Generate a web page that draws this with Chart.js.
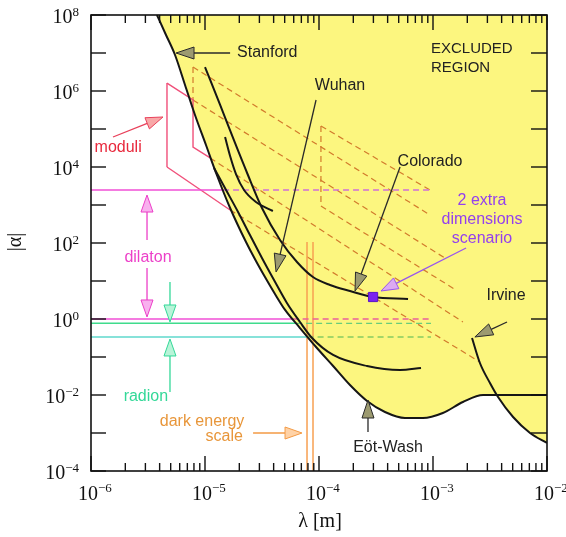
<!DOCTYPE html>
<html>
<head>
<meta charset="utf-8">
<script src="https://cdn.jsdelivr.net/npm/chart.js@4.4.1/dist/chart.umd.min.js"></script>
<style>
  html, body { margin: 0; padding: 0; background: #fff; }
  #wrap { width: 566px; height: 537px; }
</style>
</head>
<body>
<div id="wrap"><canvas id="chart" width="566" height="537"></canvas></div>
<script>
// axes range and tick labels
const xMin = 1e-6, xMax = 1e-2;
const yMin = 1e-4, yMax = 1e8;
const xDecades = [1e-6, 1e-5, 1e-4, 1e-3, 1e-2];
const xDecadeExp = ["−6", "−5", "−4", "−3", "−2"];
const minorSteps = [2, 3, 4, 5, 6, 7, 8, 9];
const yDecades = [1e8, 1e7, 1e6, 1e5, 1e4, 1e3, 1e2, 1e1, 1e0, 1e-1, 1e-2, 1e-3, 1e-4];
const yLabelled = [1e8, 1e6, 1e4, 1e2, 1e0, 1e-2, 1e-4];
const yLabelExp = ["8", "6", "4", "2", "0", "−2", "−4"];

// Eot-Wash / Stanford boundary of the excluded region
const eotWashX = [3.79e-6, 4.55e-6, 5.46e-6, 6.68e-6, 8.17e-6, 1.02e-5, 1.27e-5, 1.66e-5, 2.29e-5, 2.80e-5,
  3.36e-5, 4.11e-5, 5.04e-5, 6.81e-5, 9.42e-5, 1.33e-4, 1.87e-4, 2.64e-4, 3.79e-4, 5.68e-4,
  8.17e-4, 1.22e-3, 1.83e-3, 2.75e-3, 3.87e-3, 5.79e-3, 1e-2];
const eotWashY = [1e8, 2.98e7, 8.86e6, 1.44e6, 2.34e5, 3.79e4, 6.16e3, 834, 106, 33.6,
  12.7, 4.55, 1.73, 0.579, 0.183, 0.0579, 0.0183, 6.95e-3, 3.57e-3, 2.48e-3,
  2.48e-3, 3.36e-3, 6.54e-3, 0.01, 0.01, 0.01, 0.01];

const irvineX = [2.20e-3, 2.58e-3, 3.16e-3, 3.72e-3, 5.04e-3, 7.10e-3, 1e-2];
const irvineY = [0.316, 0.0695, 0.0207, 8.86e-3, 2.64e-3, 1e-3, 5.46e-4];

const coloradoX = [1e-5, 1.36e-5, 1.79e-5, 2.38e-5, 3.16e-5, 4.55e-5, 6.41e-5, 8.85e-5, 1.25e-4, 1.87e-4, 2.98e-4, 6.04e-4];
const coloradoY = [4.28e6, 4.28e5, 5.14e4, 6.16e3, 834, 120, 31.6, 12.7, 7.85, 5.46, 3.79, 3.36];

const wuhanX = [1.20e-5, 1.53e-5, 1.95e-5, 2.48e-5, 3.16e-5, 4.03e-5, 5.23e-5, 6.81e-5, 8.69e-5, 1.33e-4, 2.64e-4, 5.14e-4, 7.85e-4];
const wuhanY = [9.42e3, 2.48e3, 655, 162, 40.3, 10.6, 2.64, 0.834, 0.316, 0.113, 0.0579, 0.0455, 0.0514];

const stanford2X = [1.50e-5, 1.66e-5, 1.87e-5, 2.20e-5, 2.80e-5, 3.94e-5];
const stanford2Y = [6.16e4, 1.95e4, 6.54e3, 2.48e3, 1.20e3, 695];

// theory: moduli outline (solid) and its continuation / extra-dimension lines (dashed)
const moduliSolid = [
  [[4.64e-6, 1.62e6], [4.64e-6, 1e4]],
  [[4.64e-6, 1.62e6], [7.85e-6, 5.80e5], [7.85e-6, 3.36e4], [1.11e-5, 1.73e4]],
  [[4.64e-6, 1e4], [1.66e-5, 738]],
];
const theoryDashed = [
  [[7.85e-6, 4.28e6], [7.85e-6, 5.80e5]],
  [[7.85e-6, 4.28e6], [9.42e-4, 546]],
  [[7.85e-6, 5.80e5], [1.27e-3, 40.3]],
  [[1.04e-4, 1.20e5], [1.04e-4, 942]],
  [[1.04e-4, 1.20e5], [9.42e-4, 2480]],
  [[1.04e-4, 942], [1.59e-3, 5.80]],
  [[1.11e-5, 1.73e4], [1.83e-3, 0.834]],
  [[1.66e-5, 738], [2.58e-3, 0.0738]],
];

// dilaton / radion levels: solid outside, dashed inside the excluded region
const levelAlpha = [2480, 1, 0.77, 0.336];
const levelSolidEnd = [1.44e-5, 5.87e-5, 6.3e-5, 7.94e-5];
const levelDashEnd = [9.42e-4, 9.6e-4, 9.6e-4, 9.6e-4];
const levelColor = ["#f04fd6", "#f04fd6", "#3fdc8c", "#5fd8cc"];
const levelDashColor = ["#d070d8", "#e8609a", "#6acc7a", "#86cc62"];

// dark energy scale
const darkEnergyLambda = [7.85e-5, 8.86e-5];
const darkEnergyTop = 106;

// 2 extra dimensions point
const extraDimPoint = [{ x: 2.98e-4, y: 3.79 }];

// labels
const labels = [
  { t: "Stanford", x: 1.91e-5, y: 1e7, c: "#222", a: "left" },
  { t: "EXCLUDED", x: 9.6e-4, y: 1.31e7, c: "#222", a: "left", s: 15 },
  { t: "REGION", x: 9.6e-4, y: 4.03e6, c: "#222", a: "left", s: 15 },
  { t: "Wuhan", x: 1.53e-4, y: 1.36e6, c: "#222", a: "center" },
  { t: "Colorado", x: 9.42e-4, y: 1.36e4, c: "#222", a: "center" },
  { t: "2 extra", x: 2.69e-3, y: 1.27e3, c: "#9440ee", a: "center" },
  { t: "dimensions", x: 2.69e-3, y: 403, c: "#9440ee", a: "center" },
  { t: "scenario", x: 2.69e-3, y: 127, c: "#9440ee", a: "center" },
  { t: "Irvine", x: 4.37e-3, y: 4.03, c: "#222", a: "center" },
  { t: "Eöt-Wash", x: 4.03e-4, y: 4.03e-4, c: "#222", a: "center" },
  { t: "moduli", x: 1.73e-6, y: 3.16e4, c: "#e8283c", a: "center" },
  { t: "dilaton", x: 3.16e-6, y: 40.3, c: "#ec3fc8", a: "center" },
  { t: "radion", x: 3.03e-6, y: 8.86e-3, c: "#33d898", a: "center" },
  { t: "dark energy", x: 9.42e-6, y: 1.95e-3, c: "#e8963a", a: "center" },
  { t: "scale", x: 2.15e-5, y: 7.85e-4, c: "#e8963a", a: "right" },
];

// arrows: [fromX, fromY, toX, toY]
const pointerArrows = [
  [1.66e-5, 1e7, 5.57e-6, 1e7],
  [9.42e-5, 5.80e5, 4.20e-5, 17.3],
  [5.14e-4, 1e4, 2.07e-4, 5.46],
  [4.46e-3, 0.834, 2.33e-3, 0.336],
  [2.69e-4, 1.06e-3, 2.69e-4, 7.38e-3],
];
const colorArrows = [
  { p: [1.56e-6, 6.16e4, 4.28e-6, 2.07e5], line: "#e8405a", fill: "#f8a8a8" },
  { p: [3.10e-6, 120, 3.10e-6, 1.83e3], line: "#ec3fc8", fill: "#f8b0ee" },
  { p: [3.10e-6, 22.0, 3.10e-6, 1.13], line: "#ec3fc8", fill: "#f8b0ee" },
  { p: [4.93e-6, 9.42, 4.93e-6, 0.834], line: "#33d898", fill: "#b8f4d8" },
  { p: [4.93e-6, 0.012, 4.93e-6, 0.298], line: "#33d898", fill: "#b8f4d8" },
  { p: [2.64e-5, 1e-3, 7.10e-5, 1e-3], line: "#f39a45", fill: "#ffd2a6" },
  { p: [1.95e-3, 73.8, 3.50e-4, 5.46], line: "#9955ee", fill: "#dcaaf2" },
];

const YELLOW = "#fcf67f";
const NONE = "rgba(0,0,0,0)";

function pts(xs, ys) { return xs.map((v, i) => ({ x: v, y: ys[i] })); }
function seg(pairs) { return pairs.map((p) => ({ x: p[0], y: p[1] })); }

const datasets = [];
// yellow excluded region
datasets.push({ data: pts(eotWashX, eotWashY), fill: "end", backgroundColor: YELLOW, borderColor: NONE, borderWidth: 0, cubicInterpolationMode: "monotone", order: 20 });
datasets.push({ data: pts(irvineX, irvineY), fill: { value: 0.01 }, backgroundColor: YELLOW, borderColor: NONE, borderWidth: 0, cubicInterpolationMode: "monotone", order: 20 });

// theory lines
moduliSolid.forEach((s) => datasets.push({ data: seg(s), borderColor: "#f0507a", borderWidth: 1.4, order: 8 }));
theoryDashed.forEach((s) => datasets.push({ data: seg(s), borderColor: "#d27a2c", borderWidth: 1.2, borderDash: [6, 4], order: 8 }));
levelAlpha.forEach((a, i) => {
  datasets.push({ data: [{ x: xMin, y: a }, { x: levelSolidEnd[i], y: a }], borderColor: levelColor[i], borderWidth: 1.5, order: 7 });
  datasets.push({ data: [{ x: levelSolidEnd[i], y: a }, { x: levelDashEnd[i], y: a }], borderColor: levelDashColor[i], borderWidth: 1.3, borderDash: [6, 4], order: 7 });
});
darkEnergyLambda.forEach((l) => datasets.push({ data: [{ x: l, y: darkEnergyTop }, { x: l, y: yMin }], borderColor: "#f7a052", borderWidth: 1.5, order: 7 }));

// experimental limits
[[eotWashX, eotWashY], [irvineX, irvineY], [coloradoX, coloradoY], [wuhanX, wuhanY], [stanford2X, stanford2Y]].forEach(([xs, ys]) => {
  datasets.push({ data: pts(xs, ys), borderColor: "#161616", borderWidth: 2, cubicInterpolationMode: "monotone", order: 3 });
});

datasets.push({ data: extraDimPoint, showLine: false, pointStyle: "rect", pointRadius: 6.5, backgroundColor: "#7a22f0", borderColor: "#5a14c8", borderWidth: 1, order: 0 });

function arrow(ctx, x1, y1, x2, y2, line, fill, len, w) {
  const ang = Math.atan2(y2 - y1, x2 - x1);
  const bx = x2 - len * Math.cos(ang), by = y2 - len * Math.sin(ang);
  ctx.strokeStyle = line;
  ctx.lineWidth = 1.3;
  ctx.beginPath(); ctx.moveTo(x1, y1); ctx.lineTo(bx, by); ctx.stroke();
  const nx = -Math.sin(ang) * w, ny = Math.cos(ang) * w;
  ctx.beginPath(); ctx.moveTo(x2, y2); ctx.lineTo(bx + nx, by + ny); ctx.lineTo(bx - nx, by - ny); ctx.closePath();
  ctx.fillStyle = fill; ctx.fill();
  ctx.lineWidth = 1; ctx.stroke();
}

const decorations = {
  id: "decorations",
  afterDatasetsDraw(chart) {
    const { ctx, chartArea: a, scales: { x, y } } = chart;
    const px = (v) => x.getPixelForValue(v);
    const py = (v) => y.getPixelForValue(v);
    ctx.save();

    // arrows
    pointerArrows.forEach((p) => arrow(ctx, px(p[0]), py(p[1]), px(p[2]), py(p[3]), "#2a2a2a", "#9c9a70", 18, 6));
    colorArrows.forEach((c) => arrow(ctx, px(c.p[0]), py(c.p[1]), px(c.p[2]), py(c.p[3]), c.line, c.fill, 17, 6));

    // text labels
    ctx.textBaseline = "middle";
    labels.forEach((l) => {
      ctx.font = (l.s || 16) + 'px "Liberation Sans", Arial, sans-serif';
      ctx.fillStyle = l.c;
      ctx.textAlign = l.a;
      ctx.fillText(l.t, px(l.x), py(l.y));
    });

    // frame
    ctx.strokeStyle = "#111";
    ctx.lineWidth = 1.6;
    ctx.strokeRect(a.left, a.top, a.right - a.left, a.bottom - a.top);

    // ticks (inward)
    ctx.lineWidth = 1.4;
    const tick = (x1, y1, x2, y2) => { ctx.beginPath(); ctx.moveTo(x1, y1); ctx.lineTo(x2, y2); ctx.stroke(); };
    xDecades.forEach((d) => {
      const p = px(d);
      tick(p, a.bottom, p, a.bottom - 15);
      tick(p, a.top, p, a.top + 15);
      if (d < xMax) {
        minorSteps.forEach((m) => {
          const q = px(d * m);
          tick(q, a.bottom, q, a.bottom - 8);
          tick(q, a.top, q, a.top + 8);
        });
      }
    });
    yDecades.forEach((d) => {
      const p = py(d);
      tick(a.left, p, a.left + 15, p);
      tick(a.right, p, a.right - 16, p);
    });

    // tick labels "10" with superscript
    ctx.fillStyle = "#111";
    ctx.textBaseline = "alphabetic";
    const big = '20px "Liberation Serif", "Times New Roman", serif';
    const small = '13px "Liberation Serif", "Times New Roman", serif';
    xDecades.forEach((d, i) => {
      const p = px(d) - 3;
      ctx.font = big; ctx.textAlign = "center";
      ctx.fillText("10", p, a.bottom + 29);
      ctx.font = small; ctx.textAlign = "left";
      ctx.fillText(xDecadeExp[i], p + 10, a.bottom + 21);
    });
    yLabelled.forEach((d, i) => {
      const p = py(d);
      ctx.font = small; ctx.textAlign = "right";
      ctx.fillText(yLabelExp[i], a.left - 12, p + 1);
      const w = ctx.measureText(yLabelExp[i]).width;
      ctx.font = big;
      ctx.fillText("10", a.left - 12 - w, p + 8);
    });

    // axis titles
    ctx.font = '20px "Liberation Serif", "Times New Roman", serif';
    ctx.textAlign = "center";
    ctx.textBaseline = "middle";
    ctx.fillText("λ [m]", (a.left + a.right) / 2 + 1, 522);
    ctx.save();
    ctx.translate(16, 242);
    ctx.rotate(-Math.PI / 2);
    ctx.fillText("|α|", 0, 0);
    ctx.restore();

    ctx.restore();
  },
};

new Chart(document.getElementById("chart"), {
  type: "line",
  data: { datasets },
  options: {
    responsive: false,
    animation: false,
    layout: { padding: { left: 91, right: 19, top: 15, bottom: 66 } },
    elements: { point: { radius: 0 }, line: { tension: 0 } },
    plugins: { legend: { display: false }, tooltip: { enabled: false } },
    scales: {
      x: { type: "logarithmic", min: xMin, max: xMax, display: false },
      y: { type: "logarithmic", min: yMin, max: yMax, display: false },
    },
  },
  plugins: [decorations],
});
</script>
</body>
</html>
